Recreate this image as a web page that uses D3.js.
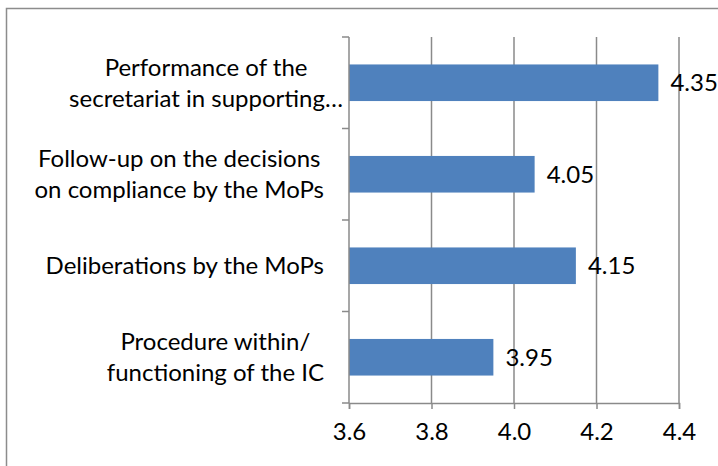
<!DOCTYPE html>
<html>
<head>
<meta charset="utf-8">
<script src="https://cdn.jsdelivr.net/npm/d3@7"></script>
<style>
  body { margin: 0; background: #fff; }
  text { font-family: Lato, "Open Sans", sans-serif; fill: #000; }
</style>
</head>
<body>
<div id="my_dataviz"></div>
<script>
// chart data (top to bottom)
const categories = [
  ["Performance of the", "secretariat in supporting…"],
  ["Follow-up on the decisions", "on compliance by the MoPs"],
  ["Deliberations by the MoPs"],
  ["Procedure within/", "functioning of the IC"]
]
const values = [4.35, 4.05, 4.15, 3.95]
const xTicks = [3.6, 3.8, 4.0, 4.2, 4.4]

// set the dimensions and margins of the graph
const W = 718, H = 466
const margin = { top: 37, right: 39, bottom: 63, left: 349 },
  width = W - margin.left - margin.right,
  height = H - margin.top - margin.bottom;

const fontSize = "24px"

const root = d3.select("#my_dataviz")
  .append("svg")
  .attr("width", W)
  .attr("height", H)

// outer chart border (right/bottom edges fall outside the picture)
root.append("rect")
  .attr("x", 6.5)
  .attr("y", 8.5)
  .attr("width", W + 20)
  .attr("height", H + 20)
  .attr("fill", "none")
  .attr("stroke", "#8c8c8c")
  .attr("stroke-width", 1.5)

const svg = root.append("g")
  .attr("transform", `translate(${margin.left},${margin.top})`);

// x to coord. conversion
const x = d3.scaleLinear()
  .domain([3.6, 4.4])
  .range([0, width]);

// category to coord. conversion
const y = d3.scaleBand()
  .domain(d3.range(categories.length))
  .range([0, height])
  .paddingInner(0.6)
  .paddingOuter(0.3);

const gridColor = "#8a8a8a"

// vertical gridlines
svg.append("g")
  .selectAll("line")
  .data(xTicks.slice(1))
  .join("line")
  .attr("x1", d => x(d))
  .attr("x2", d => x(d))
  .attr("y1", 0)
  .attr("y2", height)
  .attr("stroke", gridColor)
  .attr("stroke-width", 1.5)

// bars
svg.append("g")
  .selectAll("rect")
  .data(values)
  .join("rect")
  .attr("x", x(3.6))
  .attr("y", (d, i) => y(i))
  .attr("width", d => x(d) - x(3.6))
  .attr("height", y.bandwidth())
  .attr("fill", "#4f81bd")

// value labels
svg.append("g")
  .selectAll("text")
  .data(values)
  .join("text")
  .attr("x", d => x(d) + 12)
  .attr("y", (d, i) => y(i) + y.bandwidth() / 2)
  .attr("dy", "0.35em")
  .style("font-size", fontSize)
  .text(d => d3.format(".2f")(d))

// X axis
const xAxis = svg.append("g")
  .attr("transform", `translate(0, ${height})`)
  .call(d3.axisBottom(x).tickValues(xTicks).tickFormat(d3.format(".1f")).tickSize(6).tickPadding(14))
xAxis.select(".domain").attr("stroke", gridColor).attr("stroke-width", 1.5)
xAxis.selectAll(".tick line").attr("stroke", gridColor).attr("stroke-width", 1.5)
xAxis.selectAll(".tick text").style("font-size", fontSize).attr("fill", "#000")

// Y axis line with ticks at band boundaries
const step = y.step()
const bounds = d3.range(categories.length + 1).map(i => i * step)
svg.append("line")
  .attr("x1", 0).attr("x2", 0)
  .attr("y1", 0).attr("y2", height)
  .attr("stroke", gridColor)
  .attr("stroke-width", 1.5)
svg.append("g")
  .selectAll("line")
  .data(bounds)
  .join("line")
  .attr("x1", -7)
  .attr("x2", 0)
  .attr("y1", d => d)
  .attr("y2", d => d)
  .attr("stroke", gridColor)
  .attr("stroke-width", 1.5)

// category labels: lines centred inside a block that sits left of the axis
const lineH = 31
const catG = svg.append("g")
categories.forEach((lines, i) => {
  const cy = y(i) + y.bandwidth() / 2
  const texts = lines.map((l, j) => catG.append("text")
    .attr("y", cy + (j - (lines.length - 1) / 2) * lineH)
    .attr("dy", "0.35em")
    .attr("text-anchor", "middle")
    .style("font-size", fontSize)
    .text(l))
  const maxW = d3.max(texts, t => t.node().getComputedTextLength())
  const gap = lines.some(l => l.endsWith("…")) ? 6 : 25
  texts.forEach(t => t.attr("x", -gap - maxW / 2))
})
</script>
</body>
</html>
